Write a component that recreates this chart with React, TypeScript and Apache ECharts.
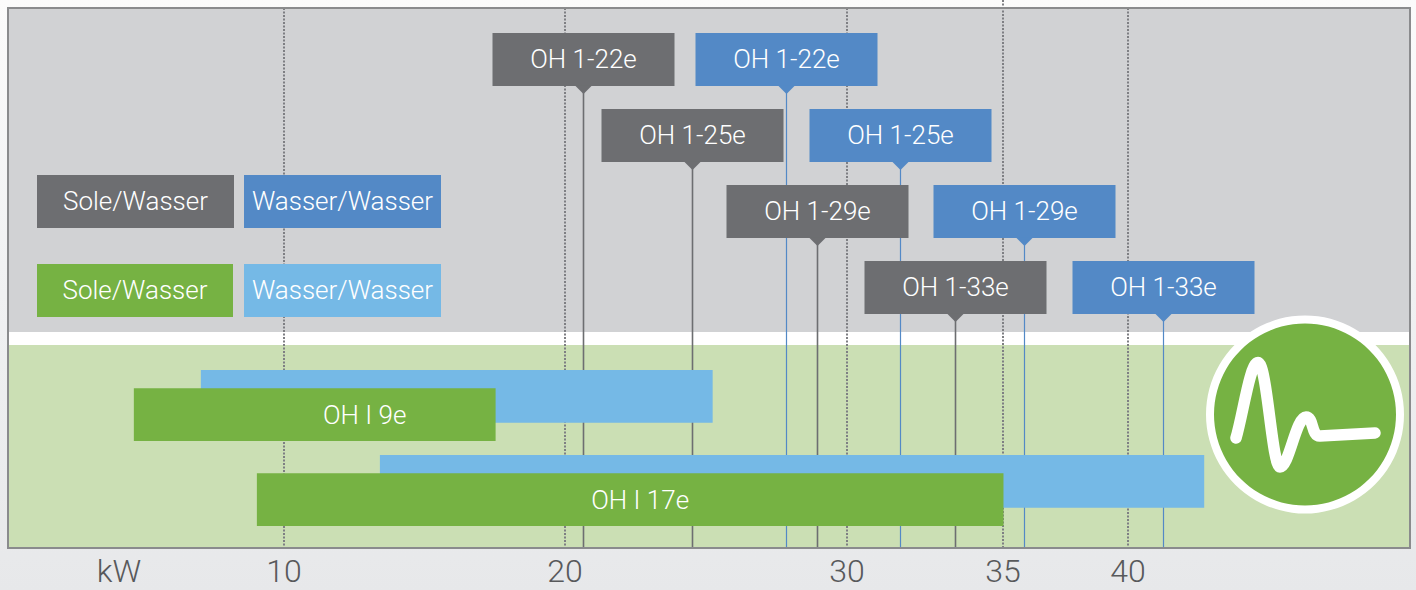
import React, { useEffect, useRef } from 'react';
import * as echarts from 'echarts';

// ---------- data ----------
const gridTickKw = [10, 20, 30, 35.56, 40];
const gridTickLabels = ['10', '20', '30', '35', '40'];
const gridTickExtendAbove = [false, false, false, true, false];
const unitLabel = 'kW';

const legendLabels = ['Sole/Wasser', 'Wasser/Wasser', 'Sole/Wasser', 'Wasser/Wasser'];

const markerModels = ['OH 1-22e', 'OH 1-25e', 'OH 1-29e', 'OH 1-33e'];
const markerSoleKw = [20.61, 24.48, 28.92, 33.85];
const markerWasserKw = [27.85, 31.87, 36.3, 41.24];

const barModels = ['OH I 9e', 'OH I 17e'];
const barWasserStart = [7.05, 13.41];
const barWasserEnd = [25.23, 42.69];
const barSoleStart = [4.67, 9.04];
const barSoleEnd = [17.52, 35.56];

// ---------- styles ----------
const FONT = 'Roboto, "Liberation Sans", Arial, sans-serif';
const C_GRAY = '#6d6e71';
const C_BLUE = '#5389c6';
const C_GREEN = '#76b243';
const C_LBLUE = '#75b9e6';
const C_UPPER = '#d1d2d4';
const C_LOWER = '#cbdfb4';
const C_DOT = '#7e7f83';
const C_AXIS_TXT = '#58595b';

const UPPER_H = 324; // gray area height inside plot
const BAND_H = 13;   // white band
const BOX_W = 182;
const BOX_H = 53;
const BOX_TOP0 = 25;
const BOX_STEP = 76;
const BAR_TOP0 = 362;
const BAR_ROW_STEP = 85;
const BAR_SOLE_OFFSET = 18.3;
const BAR_H = 52.7;
const barLabelShift = [50, 10];

const WAVE_D =
  'M -69 23.5 C -62 0, -55 -52, -47 -52 C -38 -52, -33 52.5, -25 52.5 C -16 52.5, -9 2.5, 1 2.5 C 9 2.5, 6 22, 15 21.5 L 70 18.5';

let waveRegistered = false;
function ensureWave() {
  if (waveRegistered) return;
  echarts.graphic.registerShape('wave', echarts.graphic.extendPath(WAVE_D, {}) as any);
  waveRegistered = true;
}

export default function App() {
  const ref = useRef<HTMLDivElement>(null);

  useEffect(() => {
    if (!ref.current) return;
    ensureWave();
    const chart = echarts.init(ref.current, undefined, { renderer: 'svg' });

    const regionSeries = {
      type: 'custom',
      z: 1,
      silent: true,
      data: [[0]],
      renderItem: (params: any) => {
        const cs = params.coordSys;
        return {
          type: 'group',
          children: [
            { type: 'rect', shape: { x: cs.x, y: cs.y, width: cs.width, height: UPPER_H }, style: { fill: C_UPPER } },
            { type: 'rect', shape: { x: cs.x, y: cs.y + UPPER_H, width: cs.width, height: BAND_H }, style: { fill: '#ffffff' } },
            {
              type: 'rect',
              shape: { x: cs.x, y: cs.y + UPPER_H + BAND_H, width: cs.width, height: cs.height - UPPER_H - BAND_H },
              style: { fill: C_LOWER },
            },
          ],
        };
      },
    };

    const gridSeries = {
      type: 'custom',
      z: 2,
      silent: true,
      data: gridTickKw.map((v, i) => [v, i]),
      renderItem: (params: any, api: any) => {
        const cs = params.coordSys;
        const i = api.value(1);
        const x = Math.round(api.coord([api.value(0), 0])[0]);
        const yTop = gridTickExtendAbove[i] ? 0 : cs.y;
        return {
          type: 'group',
          children: [
            {
              type: 'line',
              shape: { x1: x, y1: yTop, x2: x, y2: cs.y + cs.height },
              style: { stroke: C_DOT, lineWidth: 2, lineDash: [2, 1.5] },
            },
            {
              type: 'text',
              style: {
                text: gridTickLabels[i],
                x: x,
                y: cs.y + cs.height + 23,
                align: 'center',
                verticalAlign: 'middle',
                fill: C_AXIS_TXT,
                fontSize: 32,
                fontFamily: FONT,
                fontWeight: 300,
              },
            },
          ],
        };
      },
    };

    const markerData: number[][] = [];
    markerModels.forEach((_, i) => {
      markerData.push([markerSoleKw[i], i, 0]);
      markerData.push([markerWasserKw[i], i, 1]);
    });

    const markerLineSeries = {
      type: 'custom',
      z: 3,
      silent: true,
      data: markerData,
      renderItem: (params: any, api: any) => {
        const cs = params.coordSys;
        const x = Math.round(api.coord([api.value(0), 0])[0]) + 0.5;
        const tier = api.value(1);
        const kind = api.value(2);
        const top = cs.y + BOX_TOP0 + tier * BOX_STEP + BOX_H;
        return {
          type: 'line',
          shape: { x1: x, y1: top, x2: x, y2: cs.y + cs.height },
          style: { stroke: kind === 0 ? C_GRAY : C_BLUE, lineWidth: kind === 0 ? 1.6 : 1.2 },
        };
      },
    };

    const barData: number[][] = [];
    barModels.forEach((_, i) => {
      barData.push([barWasserStart[i], barWasserEnd[i], i, 0]);
      barData.push([barSoleStart[i], barSoleEnd[i], i, 1]);
    });

    const barSeries = {
      type: 'custom',
      z: 4,
      silent: true,
      data: barData,
      renderItem: (params: any, api: any) => {
        const cs = params.coordSys;
        const x0 = api.coord([api.value(0), 0])[0];
        const x1 = api.coord([api.value(1), 0])[0];
        const row = api.value(2);
        const kind = api.value(3);
        const top = cs.y + BAR_TOP0 + row * BAR_ROW_STEP + kind * BAR_SOLE_OFFSET;
        const children: any[] = [
          { type: 'rect', shape: { x: x0, y: top, width: x1 - x0, height: BAR_H }, style: { fill: kind === 0 ? C_LBLUE : C_GREEN } },
        ];
        if (kind === 1) {
          children.push({
            type: 'text',
            style: {
              text: barModels[row],
              x: (x0 + x1) / 2 + barLabelShift[row],
              y: top + BAR_H / 2,
              align: 'center',
              verticalAlign: 'middle',
              fill: '#ffffff',
              fontSize: 26,
              fontFamily: FONT,
              fontWeight: 300,
            },
          });
        }
        return { type: 'group', children };
      },
    };

    const boxSeries = {
      type: 'custom',
      z: 5,
      silent: true,
      data: markerData,
      renderItem: (params: any, api: any) => {
        const cs = params.coordSys;
        const x = Math.round(api.coord([api.value(0), 0])[0]) + 0.5;
        const tier = api.value(1);
        const kind = api.value(2);
        const top = cs.y + BOX_TOP0 + tier * BOX_STEP;
        const fill = kind === 0 ? C_GRAY : C_BLUE;
        return {
          type: 'group',
          children: [
            { type: 'rect', shape: { x: x - BOX_W / 2, y: top, width: BOX_W, height: BOX_H }, style: { fill } },
            {
              type: 'polygon',
              shape: { points: [[x - 8.5, top + BOX_H - 0.5], [x + 8.5, top + BOX_H - 0.5], [x, top + BOX_H + 8]] },
              style: { fill },
            },
            {
              type: 'text',
              style: {
                text: markerModels[tier],
                x: x,
                y: top + BOX_H / 2 - 0.5,
                align: 'center',
                verticalAlign: 'middle',
                fill: '#ffffff',
                fontSize: 26,
                fontFamily: FONT,
                fontWeight: 300,
              },
            },
          ],
        };
      },
    };

    const legendRects = [
      { x: 37, y: 175, w: 197, fill: C_GRAY },
      { x: 244, y: 175, w: 197, fill: C_BLUE },
      { x: 37, y: 264, w: 196, fill: C_GREEN },
      { x: 244, y: 264, w: 197, fill: C_LBLUE },
    ];

    const graphics: any[] = [];
    legendRects.forEach((r, i) => {
      graphics.push({ type: 'rect', z: 10, shape: { x: r.x, y: r.y, width: r.w, height: 53 }, style: { fill: r.fill } });
      graphics.push({
        type: 'text',
        z: 11,
        x: r.x + r.w / 2,
        y: r.y + 26,
        style: {
          text: legendLabels[i],
          align: 'center',
          verticalAlign: 'middle',
          fill: '#ffffff',
          fontSize: 26,
          fontFamily: FONT,
          fontWeight: 300,
        },
      });
    });
    graphics.push({
      type: 'text',
      z: 11,
      x: 119,
      y: 571,
      style: {
        text: unitLabel,
        align: 'center',
        verticalAlign: 'middle',
        fill: C_AXIS_TXT,
        fontSize: 32,
        fontFamily: FONT,
        fontWeight: 300,
      },
    });
    graphics.push({ type: 'circle', z: 20, shape: { cx: 1305, cy: 414.5, r: 99 }, style: { fill: '#ffffff' } });
    graphics.push({ type: 'circle', z: 21, shape: { cx: 1305, cy: 414.5, r: 91 }, style: { fill: C_GREEN } });
    graphics.push({
      type: 'wave',
      z: 22,
      x: 1305,
      y: 414.5,
      style: { fill: 'none', stroke: '#ffffff', lineWidth: 11.5, lineCap: 'round', lineJoin: 'round' },
    });

    chart.setOption({
      animation: false,
      grid: {
        left: 8,
        right: 6,
        top: 8,
        bottom: 42,
        show: true,
        backgroundColor: 'transparent',
        borderColor: '#8a8b8d',
        borderWidth: 2,
        z: 6,
      },
      xAxis: {
        type: 'value',
        min: 0.2,
        max: 50,
        axisLine: { show: false },
        axisTick: { show: false },
        axisLabel: { show: false },
        splitLine: { show: false },
      },
      yAxis: {
        type: 'value',
        min: 0,
        max: 1,
        axisLine: { show: false },
        axisTick: { show: false },
        axisLabel: { show: false },
        splitLine: { show: false },
      },
      series: [regionSeries, gridSeries, markerLineSeries, barSeries, boxSeries],
      graphic: graphics,
    });

    return () => chart.dispose();
  }, []);

  return (
    <div
      ref={ref}
      style={{
        position: 'absolute',
        left: 0,
        top: 0,
        width: 1416,
        height: 590,
        background: 'linear-gradient(to bottom, #fbfbfb 0%, #f0f1f2 50%, #e7e8ea 100%)',
      }}
    />
  );
}
